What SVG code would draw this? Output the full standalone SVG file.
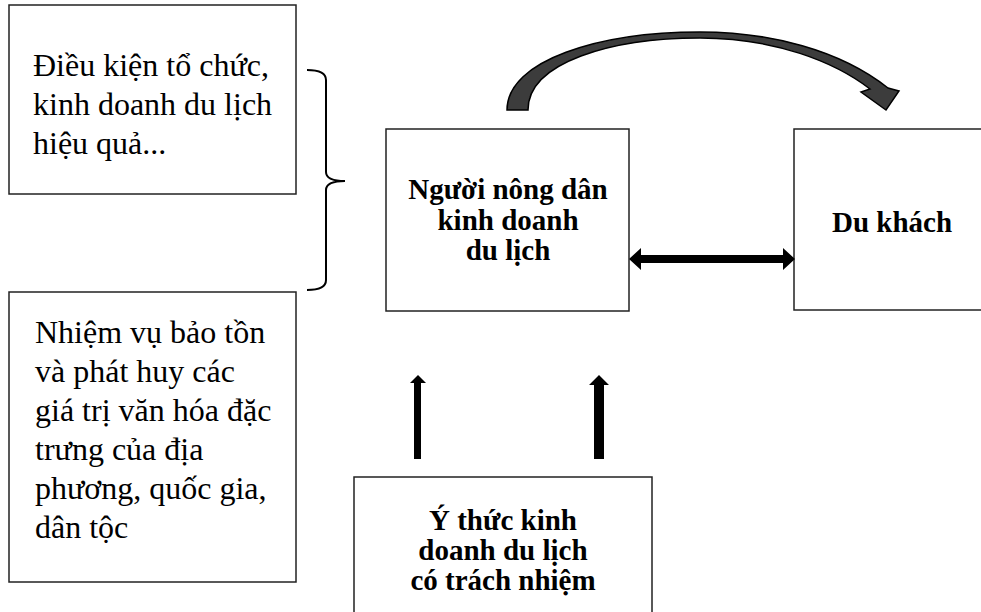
<svg xmlns="http://www.w3.org/2000/svg" width="981" height="612" viewBox="0 0 981 612">
<style>
.box{fill:#fff;stroke:#222;stroke-width:1.5}
.t{font-family:"Liberation Serif","Times New Roman",serif;font-size:32px;fill:#000}
.b{font-family:"Liberation Serif","Times New Roman",serif;font-size:29px;font-weight:bold;fill:#000;text-anchor:middle}
.ar{fill:#000}
</style>
<rect width="981" height="612" fill="#fff"/>
<g id="n-dieukien">
<rect class="box" x="9" y="5" width="287" height="189"/>
<text class="t" x="33" y="76">Điều kiện tổ chức,</text>
<text class="t" x="33" y="115">kinh doanh du lịch</text>
<text class="t" x="33" y="154">hiệu quả...</text>
</g>
<g id="n-nhiemvu">
<rect class="box" x="9" y="292" width="287" height="290"/>
<text class="t" x="35" y="343">Nhiệm vụ bảo tồn</text>
<text class="t" x="35" y="382">và phát huy các</text>
<text class="t" x="35" y="421">giá trị văn hóa đặc</text>
<text class="t" x="35" y="460">trưng của địa</text>
<text class="t" x="35" y="499">phương, quốc gia,</text>
<text class="t" x="35" y="538">dân tộc</text>
</g>
<g id="n-nongdan">
<rect class="box" x="386" y="129" width="243" height="182"/>
<text class="b" x="508" y="199">Người nông dân</text>
<text class="b" x="508" y="230">kinh doanh</text>
<text class="b" x="508" y="260">du lịch</text>
</g>
<g id="n-dukhach">
<rect class="box" x="794" y="129" width="200" height="181"/>
<text class="b" x="892" y="232">Du khách</text>
</g>
<g id="n-ythuc">
<rect class="box" x="354" y="477" width="298" height="150"/>
<text class="b" x="503" y="530">Ý thức kinh</text>
<text class="b" x="503" y="560">doanh du lịch</text>
<text class="b" x="503" y="590">có trách nhiệm</text>
</g>
<g id="connectors">
<path d="M307,70 Q326,70 326,80 L326,172 Q326,181 345,181 Q326,181 326,190 L326,280 Q326,290 307,290" fill="none" stroke="#000" stroke-width="2"/>
<path d="M507,110 C507,60 600,32 700,32 C770,32 840,50 888,88 L899,91 L886,110 L861,92 L870,89 C835,62 775,38 700,38 C612,38 528,62 528,110 Z" fill="#3c3c3c" stroke="#000" stroke-width="1.5" stroke-linejoin="miter"/>
<polygon class="ar" points="629,259 641,248 641,255 783,255 783,248 795,259 783,270 783,263 641,263 641,270"/>
<polygon class="ar" points="418,375 426,383 421,383 421,459 414,459 414,383 410,383"/>
<polygon class="ar" points="599,375 609,385 604,385 604,459 594,459 594,385 589,385"/>
</g>
</svg>
